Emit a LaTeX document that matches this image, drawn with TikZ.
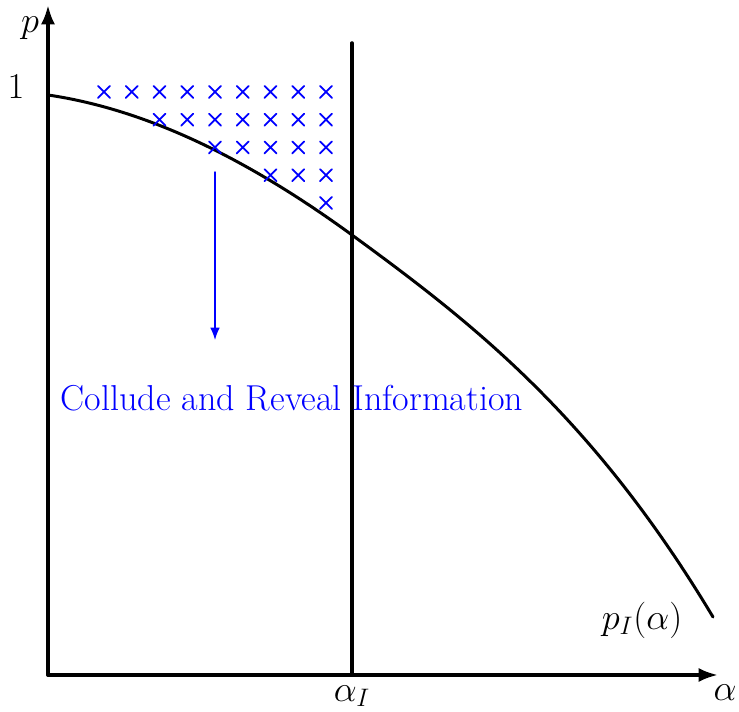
\documentclass[tikz,border=0pt]{standalone}
\usetikzlibrary{arrows.meta,calc}
\tikzset{
  axis/.style={line width=2pt, -{Latex[length=11pt, width=8pt]}},
  mline/.style={line width=2pt},
  cross/.style={blue, line width=1pt},
  lbl/.style={font=\fontsize{20.5}{23}\selectfont}
}
\newcommand{\crossmark}[1]{\draw[cross] ($(#1)+(-0.12,-0.12)$) -- ($(#1)+(0.12,0.12)$) ($(#1)+(-0.12,0.12)$) -- ($(#1)+(0.12,-0.12)$);}
\begin{document}
\begin{tikzpicture}[line cap=round, line join=round]
	\useasboundingbox (-0.96,-0.74) rectangle (13.82,13.5);
	% Axes
	\coordinate (O) at (0,0);
	\coordinate (X) at (13.4,0);
	\coordinate (Y) at (0,13.4);
	\draw[axis] (O) -- (X);
	\draw[axis] (O) -- (Y);
	
	% Threshold line at alpha_I
	\coordinate (AI) at (6.08,0);
	\coordinate (AItop) at (6.08,12.64);
	\draw[mline] (AI) -- (AItop);
	
	% Curve p_I(alpha)
	\coordinate (P0) at (0,11.6);
	\coordinate (PI) at (6.08,8.8);
	\coordinate (P1) at (13.3,1.16);
	\draw[line width=1.7pt] (P0) .. controls (2.03,11.3) and (4.05,10.28) .. (PI)
		.. controls (8.49,7.04) and (10.89,5.18) .. (P1);
	
	% Crosses above the curve
	\foreach \r in {0,...,4} {
		\foreach \c in {0,...,8} {
			\ifnum\c<\numexpr2*\r\relax\else
				\coordinate (m) at ({1.12+0.555*\c},{11.66-0.555*\r});
				\crossmark{m}
			\fi
		}
	}
	
	% Arrow down
	\coordinate (arrS) at (3.34,10.06);
	\coordinate (arrE) at (3.34,6.7);
	\draw[blue, line width=0.75pt, -{Latex[length=7pt, width=5.5pt]}] (arrS) -- (arrE);
	
	% Labels
	\node[lbl, blue] (collude) at (4.88,5.54) {Collude and Reveal Information};
	\node[lbl] (one) at (-0.64,11.76) {$1$};
	\node[lbl] (p) at (-0.36,12.94) {$p$};
	\node[lbl] (aI) at (6.08,-0.42) {$\alpha_I$};
	\node[lbl] (a) at (13.54,-0.36) {$\alpha$};
	\node[lbl] (pI) at (11.88,1.1) {$p_I(\alpha)$};
\end{tikzpicture}
\end{document}
